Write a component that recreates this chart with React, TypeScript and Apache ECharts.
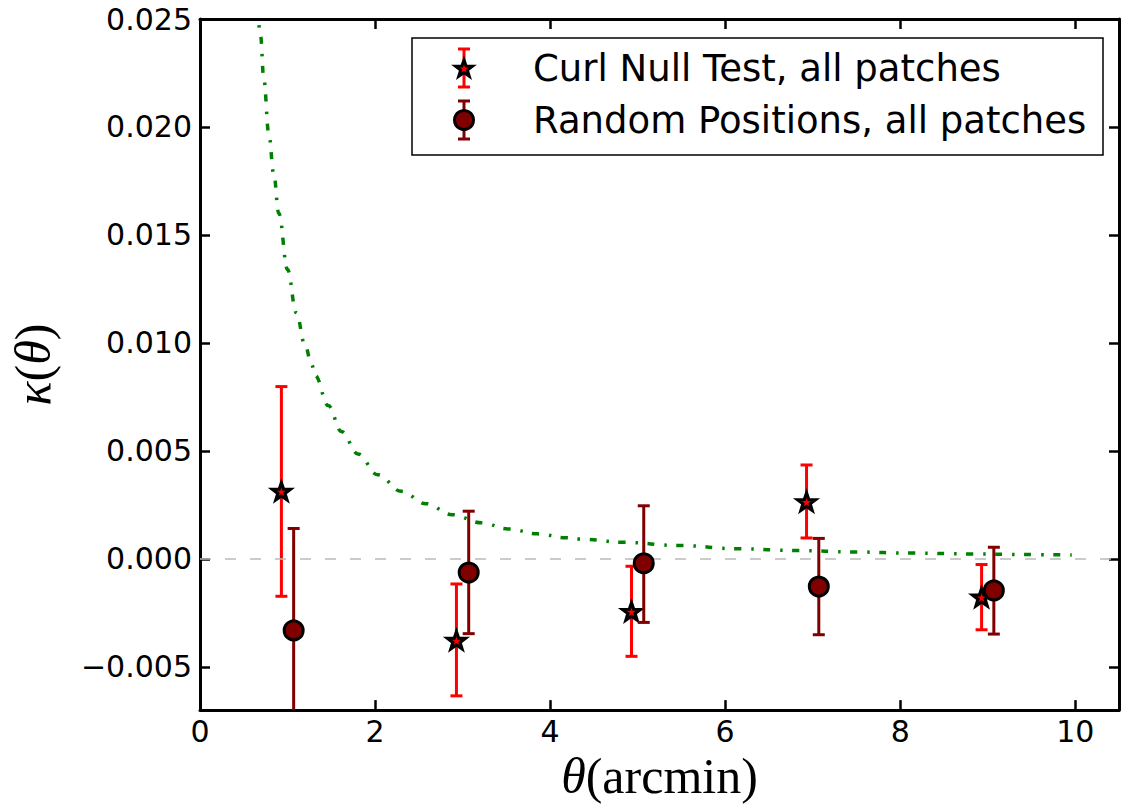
import React, { useEffect, useRef } from "react";
import * as echarts from "echarts";

// ---- data ----
const xTicks = [0, 2, 4, 6, 8, 10];
const yTicks = [-0.005, 0, 0.005, 0.01, 0.015, 0.02, 0.025];

const curlX = [0.93, 2.93, 4.93, 6.93, 8.93];
const curlY = [0.00313, -0.00377, -0.00243, 0.00265, -0.00177];
const curlLo = [-0.00173, -0.00634, -0.00451, 0.00097, -0.00328];
const curlHi = [0.00798, -0.00116, -0.00034, 0.00435, -0.00026];

const randX = [1.07, 3.07, 5.07, 7.07, 9.07];
const randY = [-0.00331, -0.00063, -0.0002, -0.00128, -0.00146];
const randLo = [-0.00803, -0.00346, -0.00294, -0.00351, -0.00348];
const randHi = [0.00141, 0.00221, 0.00246, 0.00095, 0.00054];

const modelX = [0.66, 0.692, 0.729, 0.786, 0.843, 0.9, 1.0, 1.1, 1.2, 1.276, 1.315, 1.465, 1.616, 1.805, 2.03, 2.3, 2.58, 2.88, 3.22, 3.52, 3.86, 4.18, 4.35, 4.82, 5.48, 6.15, 6.81, 7.48, 8.14, 8.81, 9.44, 9.96];
const modelY = [0.0255, 0.0242, 0.0222, 0.0197, 0.0178, 0.016, 0.0134, 0.0114, 0.0099, 0.009, 0.0085, 0.0071, 0.0059, 0.00486, 0.0039, 0.00313, 0.00256, 0.00205, 0.00167, 0.00139, 0.00116, 0.00098, 0.00092, 0.00077, 0.00062, 0.00047, 0.00039, 0.00032, 0.00027, 0.00023, 0.0002, 0.00018];

const legendNames = ["Curl Null Test, all patches", "Random Positions, all patches"];

const RED = "#ff0000";
const DARKRED = "#800000";
const GREEN = "#008000";
const STAR = "path://M0,-10 L2.35,-3.24 L9.51,-3.09 L3.8,1.24 L5.88,8.09 L0,4 L-5.88,8.09 L-3.8,1.24 L-9.51,-3.09 L-2.35,-3.24 Z";

function starPoints(cx: number, cy: number, r: number) {
  const pts: number[][] = [];
  for (let i = 0; i < 10; i++) {
    const rr = i % 2 === 0 ? r : r * 0.4;
    const a = -Math.PI / 2 + (i * Math.PI) / 5;
    pts.push([cx + rr * Math.cos(a), cy + rr * Math.sin(a)]);
  }
  return pts;
}

function errRender(color: string) {
  return (params: any, api: any) => {
    const x = api.value(0);
    const lo = api.value(1);
    const hi = api.value(2);
    const cs = params.coordSys;
    const top = api.coord([x, hi]);
    const bot = api.coord([x, lo]);
    const yMin = cs.y;
    const yMax = cs.y + cs.height;
    const t = Math.max(top[1], yMin);
    const b = Math.min(bot[1], yMax);
    const hw = 6;
    const style = { stroke: color, lineWidth: 3 };
    const children: any[] = [
      { type: "line", shape: { x1: top[0], y1: t, x2: bot[0], y2: b }, style },
    ];
    if (top[1] >= yMin) children.push({ type: "line", shape: { x1: top[0] - hw, y1: top[1], x2: top[0] + hw, y2: top[1] }, style });
    if (bot[1] <= yMax) children.push({ type: "line", shape: { x1: bot[0] - hw, y1: bot[1], x2: bot[0] + hw, y2: bot[1] }, style });
    return { type: "group", children };
  };
}

const fmtY = (v: number) => (v < 0 ? "\u2212" : "") + Math.abs(v).toFixed(3);

export default function App() {
  const ref = useRef<HTMLDivElement>(null);
  useEffect(() => {
    if (!ref.current) return;
    const chart = echarts.init(ref.current, null, { renderer: "svg" });
    const axisLine = { show: true, onZero: false, lineStyle: { color: "#000", width: 3 } };
    const tickStyle = { inside: true, length: 10, lineStyle: { color: "#000", width: 2.5 } };
    const serif = "'Liberation Serif', 'DejaVu Serif', serif";

    const lx = 412, ly = 38;
    const row1 = 68, row2 = 120, iconX = 464;
    const legendGraphic: any[] = [
      { type: "rect", shape: { x: lx, y: ly, width: 691, height: 117 }, style: { fill: "#fff", stroke: "#000", lineWidth: 1.5 }, z: 10 },
      // row 1
      { type: "line", shape: { x1: iconX, y1: row1 - 19, x2: iconX, y2: row1 + 19 }, style: { stroke: RED, lineWidth: 3 }, z: 11 },
      { type: "line", shape: { x1: iconX - 6, y1: row1 - 19, x2: iconX + 6, y2: row1 - 19 }, style: { stroke: RED, lineWidth: 3 }, z: 11 },
      { type: "line", shape: { x1: iconX - 6, y1: row1 + 19, x2: iconX + 6, y2: row1 + 19 }, style: { stroke: RED, lineWidth: 3 }, z: 11 },
      { type: "polygon", shape: { points: starPoints(iconX, row1 + 1, 9) }, style: { fill: RED, stroke: "#000", lineWidth: 3 }, z: 12 },
      { type: "text", x: 533, y: row1, style: { text: legendNames[0], fontSize: 37, fontFamily: "'DejaVu Sans'", fill: "#000", verticalAlign: "middle", align: "left" }, z: 12 },
      // row 2
      { type: "line", shape: { x1: iconX, y1: row2 - 19, x2: iconX, y2: row2 + 19 }, style: { stroke: DARKRED, lineWidth: 3 }, z: 11 },
      { type: "line", shape: { x1: iconX - 6, y1: row2 - 19, x2: iconX + 6, y2: row2 - 19 }, style: { stroke: DARKRED, lineWidth: 3 }, z: 11 },
      { type: "line", shape: { x1: iconX - 6, y1: row2 + 19, x2: iconX + 6, y2: row2 + 19 }, style: { stroke: DARKRED, lineWidth: 3 }, z: 11 },
      { type: "circle", shape: { cx: iconX, cy: row2, r: 9.5 }, style: { fill: DARKRED, stroke: "#000", lineWidth: 3 }, z: 12 },
      { type: "text", x: 533, y: row2, style: { text: legendNames[1], fontSize: 37, fontFamily: "'DejaVu Sans'", fill: "#000", verticalAlign: "middle", align: "left" }, z: 12 },
    ];

    chart.setOption({
      animation: false,
      backgroundColor: "#fff",
      grid: { left: 196, top: 19, width: 923, height: 696 },
      xAxis: [
        {
          type: "value", min: 0, max: 10.5, position: "bottom",
          axisLine, axisTick: { ...tickStyle, customValues: xTicks },
          axisLabel: { customValues: xTicks, margin: 6, fontSize: 30, fontFamily: "'DejaVu Sans'", color: "#000" },
          splitLine: { show: false },
          name: "{i|\u03b8}{r|(arcmin)}", nameLocation: "middle", nameGap: 29,
          nameTextStyle: { rich: { i: { fontFamily: serif, fontStyle: "italic", fontSize: 50, color: "#000" }, r: { fontFamily: serif, fontSize: 50, color: "#000" } } },
        },
        {
          type: "value", min: 0, max: 10.5, position: "top",
          axisLine, axisTick: { ...tickStyle, customValues: xTicks },
          axisLabel: { show: false }, splitLine: { show: false },
        },
      ],
      yAxis: [
        {
          type: "value", min: -0.007, max: 0.025, position: "left",
          axisLine, axisTick: { ...tickStyle, customValues: yTicks },
          axisLabel: { customValues: yTicks, formatter: fmtY, margin: 8, fontSize: 30, fontFamily: "'DejaVu Sans'", color: "#000" },
          splitLine: { show: false },
          name: "{i|\u03ba}{r|(}{i|\u03b8}{r|)}", nameLocation: "middle", nameGap: 142, nameRotate: 90,
          nameTextStyle: { rich: { i: { fontFamily: serif, fontStyle: "italic", fontSize: 50, color: "#000" }, r: { fontFamily: serif, fontSize: 50, color: "#000" } } },
        },
        {
          type: "value", min: -0.007, max: 0.025, position: "right",
          axisLine, axisTick: { ...tickStyle, customValues: yTicks },
          axisLabel: { show: false }, splitLine: { show: false },
        },
      ],
      graphic: legendGraphic,
      series: [
        {
          type: "line", name: "model", data: modelX.map((x, i) => [x, modelY[i]]),
          showSymbol: false, symbol: "none", smooth: 0.4, smoothMonotone: "x", clip: true,
          lineStyle: { color: GREEN, width: 3.5, type: [7, 10, 2.5, 9.5] }, z: 1,
          markLine: {
            silent: true, symbol: "none", label: { show: false },
            lineStyle: { color: "#bbbbbb", width: 1.5, type: [11, 14] },
            data: [{ yAxis: 0 }],
          },
        },
        {
          type: "custom", name: "curl err", renderItem: errRender(RED), clip: true,
          data: curlX.map((x, i) => [x, curlLo[i], curlHi[i]]), encode: { x: 0, y: [1, 2] }, z: 2,
        },
        {
          type: "scatter", name: legendNames[0], data: curlX.map((x, i) => [x, curlY[i]]),
          symbol: STAR, symbolKeepAspect: true, symbolSize: 18,
          itemStyle: { color: RED, borderColor: "#000", borderWidth: 3.2, opacity: 1 }, z: 3,
        },
        {
          type: "custom", name: "random err", renderItem: errRender(DARKRED), clip: true,
          data: randX.map((x, i) => [x, randLo[i], randHi[i]]), encode: { x: 0, y: [1, 2] }, z: 4,
        },
        {
          type: "scatter", name: legendNames[1], data: randX.map((x, i) => [x, randY[i]]),
          symbol: "circle", symbolSize: 19,
          itemStyle: { color: DARKRED, borderColor: "#000", borderWidth: 3, opacity: 1 }, z: 5,
        },
      ],
    });
    return () => chart.dispose();
  }, []);
  return <div ref={ref} style={{ position: "fixed", left: 0, top: 0, width: 1121, height: 806 }} />;
}
